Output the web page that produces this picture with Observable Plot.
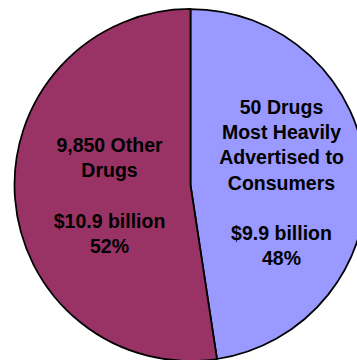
<!DOCTYPE html>
<html><head><meta charset="utf-8">
<script src="https://cdn.jsdelivr.net/npm/d3@7"></script>
<script src="https://cdn.jsdelivr.net/npm/@observablehq/plot@0.6"></script>
<style>html,body{margin:0;padding:0;background:#fff;overflow:hidden}</style>
</head><body><div id="chart"></div>
<script>
// Data
const groups = ["50 Drugs\nMost Heavily\nAdvertised to\nConsumers", "9,850 Other\nDrugs"];
const spending = [9.9, 10.9]; // $ billion
const colors = ["#9999FF", "#993366"];

const total = d3.sum(spending);
const rows = groups.map((g, i) => ({group: g, value: spending[i], color: colors[i]}));
const arcs = d3.pie().sort(null).value(d => d.value)(rows);
const labelR = 0.49;
const labelArc = d3.arc().innerRadius(labelR).outerRadius(labelR);
const labelData = arcs.map(a => {
  const [cx, cy] = labelArc.centroid(a);
  return {x: cx, y: -cy,
    text: `${a.data.group}\n\n$${a.data.value} billion\n${Math.round(a.data.value / total * 100)}%`};
});

function pieMark(index, scales) {
  const {x, y} = scales;
  const cx = x(0), cy = y(0), r = x(1) - x(0);
  const arc = d3.arc().innerRadius(0).outerRadius(r);
  const g = d3.create("svg:g").attr("transform", `translate(${cx},${cy})`);
  g.selectAll("path").data(arcs).join("path")
    .attr("d", arc)
    .attr("fill", d => d.data.color)
    .attr("stroke", "#000")
    .attr("stroke-width", 1.75)
    .attr("stroke-linejoin", "round");
  return g.node();
}

const chart = Plot.plot({
  width: 357, height: 360, margin: 0,
  x: {domain: [-1, 1], range: [14.5, 366.5], axis: null},
  y: {domain: [-1, 1], range: [361, 9], axis: null},
  style: {background: "white", overflow: "hidden"},
  marks: [
    pieMark,
    Plot.text(labelData, {
      x: "x", y: "y", text: "text",
      fontSize: 19.5, fontWeight: "bold",
      fontFamily: "Liberation Sans, Arial, sans-serif",
      lineHeight: 1.29, fill: "black", dx: 4.5, dy: 2.5
    })
  ]
});
document.getElementById("chart").appendChild(chart);
</script>
</body></html>
